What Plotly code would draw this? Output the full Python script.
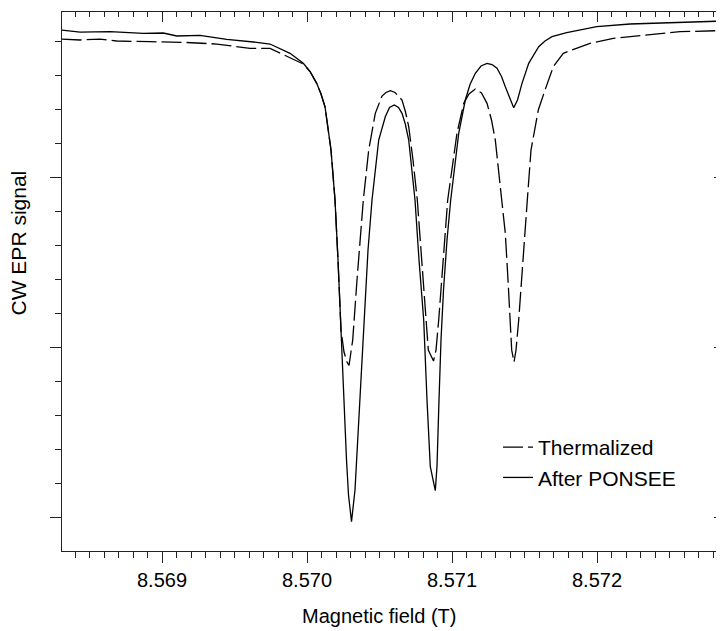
import plotly.graph_objects as go

# Field axis in tesla, signal in arbitrary units
field_thermal = [
    8.5683083, 8.5684345, 8.5685724, 8.5686876, 8.5689172, 8.5691469, 8.5693772,
    8.5696069, 8.5697448, 8.5698828, 8.5699745, 8.5700207, 8.5700669, 8.5700966,
    8.5701241, 8.5701655, 8.5701931, 8.5702138, 8.5702345, 8.5702552, 8.5702759,
    8.5702897, 8.5703152, 8.5703448, 8.5703690, 8.5703883, 8.5704255, 8.5704710,
    8.5705172, 8.5705448, 8.5705745, 8.5706069, 8.5706552, 8.5706793, 8.5707014,
    8.5707310, 8.5707607, 8.5707931, 8.5708138, 8.5708366, 8.5708724, 8.5708897,
    8.5709083, 8.5709345, 8.5709703, 8.5710345, 8.5710807, 8.5711172, 8.5711607,
    8.5712034, 8.5712414, 8.5712724, 8.5712986, 8.5713428, 8.5713676, 8.5713862,
    8.5714021, 8.5714117, 8.5714276, 8.5714414, 8.5714600, 8.5714828, 8.5715193,
    8.5715448, 8.5715952, 8.5716414, 8.5716986, 8.5717676, 8.5719517, 8.5721124,
    8.5723428, 8.5725724, 8.5728759,
]
signal_thermal = [
    14.079, 14.050, 14.079, 14.021, 14.000, 13.982, 13.932,
    13.806, 13.806, 13.541, 13.344, 13.124, 12.776, 12.462,
    12.088, 10.815, 9.344, 7.579, 5.521, 4.874, 4.579,
    4.476, 5.226, 6.991, 8.168, 9.344, 10.815, 11.894,
    12.403, 12.506, 12.559, 12.506, 12.285, 11.932, 11.500,
    10.521, 9.344, 7.579, 6.403, 4.932, 4.609, 4.932,
    5.815, 7.285, 9.344, 11.315, 12.188, 12.462, 12.609,
    12.491, 12.188, 11.697, 11.109, 9.344, 8.365, 6.991,
    5.815, 4.932, 4.579, 4.932, 5.815, 7.285, 9.344,
    10.815, 11.991, 12.579, 13.265, 13.659, 13.953, 14.100,
    14.197, 14.294, 14.329,
]

field_ponsee = [
    8.5683083, 8.5684345, 8.5686414, 8.5688710, 8.5690090, 8.5691014, 8.5692621,
    8.5694462, 8.5696531, 8.5697448, 8.5698828, 8.5699745, 8.5700207, 8.5700669,
    8.5700966, 8.5701241, 8.5701655, 8.5701931, 8.5702138, 8.5702345, 8.5702517,
    8.5702724, 8.5702862, 8.5703069, 8.5703310, 8.5703497, 8.5703655, 8.5703841,
    8.5704021, 8.5704207, 8.5704483, 8.5704945, 8.5705400, 8.5705690, 8.5706021,
    8.5706310, 8.5706552, 8.5706779, 8.5707014, 8.5707241, 8.5707448, 8.5707724,
    8.5708048, 8.5708276, 8.5708503, 8.5708848, 8.5708966, 8.5709103, 8.5709241,
    8.5709414, 8.5709655, 8.5709910, 8.5710462, 8.5710917, 8.5711241, 8.5711607,
    8.5712000, 8.5712414, 8.5712759, 8.5713103, 8.5713414, 8.5713676, 8.5713966,
    8.5714255, 8.5714517, 8.5714828, 8.5715290, 8.5715979, 8.5716414, 8.5716897,
    8.5717910, 8.5719979, 8.5722276, 8.5725724, 8.5728759,
]
signal_ponsee = [
    14.340, 14.285, 14.294, 14.247, 14.256, 14.168, 14.188,
    14.071, 13.982, 13.932, 13.659, 13.365, 13.124, 12.776,
    12.462, 12.088, 10.815, 9.344, 7.579, 5.521, 3.462,
    1.697, 0.668, -0.118, 0.815, 2.285, 3.462, 5.226,
    6.403, 7.874, 9.344, 11.109, 11.794, 12.065, 12.138,
    12.065, 11.894, 11.579, 11.109, 10.226, 9.344, 7.579,
    5.815, 3.462, 1.500, 0.794, 1.521, 3.462, 5.226,
    6.697, 8.168, 9.344, 11.306, 12.285, 12.741, 13.071,
    13.285, 13.365, 13.329, 13.218, 12.976, 12.676, 12.344,
    12.059, 12.285, 12.776, 13.365, 13.853, 14.021, 14.147,
    14.265, 14.441, 14.521, 14.571, 14.609,
]

x_range = [8.5683103, 8.5728758]
y_range = [-0.979, 14.874]

FONT = "Liberation Sans, Arial, sans-serif"
AXIS_COLOR = "#222222"

fig = go.Figure()

fig.add_trace(go.Scatter(
    x=field_thermal, y=signal_thermal,
    mode="lines", name="Thermalized",
    line=dict(color="black", width=1.3, dash="20px,5px"),
))
fig.add_trace(go.Scatter(
    x=field_ponsee, y=signal_ponsee,
    mode="lines", name="After PONSEE",
    line=dict(color="black", width=1.3),
))
# invisible copy so the top / right frame axes get drawn
fig.add_trace(go.Scatter(
    x=field_ponsee, y=signal_ponsee, xaxis="x2", yaxis="y2",
    mode="lines", line=dict(width=0), opacity=0,
    showlegend=False, hoverinfo="skip",
))

tick_common = dict(tickcolor=AXIS_COLOR, tickwidth=1.3, showgrid=False, zeroline=False)

# page body adds an 8px offset, so the figure is 8px smaller than the window
fig.update_layout(
    width=716, height=623,
    margin=dict(l=54, r=0, t=4, b=80),
    plot_bgcolor="white", paper_bgcolor="white",
    font=dict(family=FONT, size=20, color="black"),
    xaxis=dict(
        range=x_range, showline=True, linecolor=AXIS_COLOR, linewidth=1.3,
        ticks="outside", ticklen=11, tick0=8.569, dtick=0.001, tickformat=".3f",
        minor=dict(ticks="outside", ticklen=6, dtick=0.0001, tickcolor=AXIS_COLOR, showgrid=False),
        tickfont=dict(size=20), **tick_common,
    ),
    xaxis2=dict(
        range=x_range, overlaying="x", side="top", anchor="y",
        showline=True, linecolor=AXIS_COLOR, linewidth=1.3,
        ticks="inside", ticklen=10, tick0=8.569, dtick=0.001, showticklabels=False,
        minor=dict(ticks="inside", ticklen=5, dtick=0.0001, tickcolor=AXIS_COLOR, showgrid=False),
        **tick_common,
    ),
    yaxis=dict(
        range=y_range, showline=True, linecolor=AXIS_COLOR, linewidth=1.3,
        ticks="outside", ticklen=11, tick0=0, dtick=5, showticklabels=False,
        minor=dict(ticks="outside", ticklen=6, dtick=1, tickcolor=AXIS_COLOR, showgrid=False),
        **tick_common,
    ),
    yaxis2=dict(
        range=y_range, overlaying="y", side="right", anchor="x",
        showline=False, ticks="inside", ticklen=10, tick0=0, dtick=5, showticklabels=False,
        minor=dict(ticks="inside", ticklen=5, dtick=1, tickcolor=AXIS_COLOR, showgrid=False),
        **tick_common,
    ),
    showlegend=True,
    legend=dict(
        x=0.6586, y=0.2301, xanchor="left", yanchor="top",
        bgcolor="rgba(0,0,0,0)", font=dict(size=21, family=FONT),
    ),
)

# Axis titles as annotations (they sit off-centre in the reference)
fig.add_annotation(
    text="Magnetic field (T)", xref="paper", yref="paper",
    x=0.4796, y=-0.1206, xanchor="center", yanchor="middle",
    showarrow=False, font=dict(size=20, family=FONT),
)
fig.add_annotation(
    text="CW EPR signal", xref="paper", yref="paper",
    x=-0.0665, y=0.5724, xanchor="center", yanchor="middle", textangle=-90,
    showarrow=False, font=dict(size=21, family=FONT),
)

fig.write_html("out.html")
